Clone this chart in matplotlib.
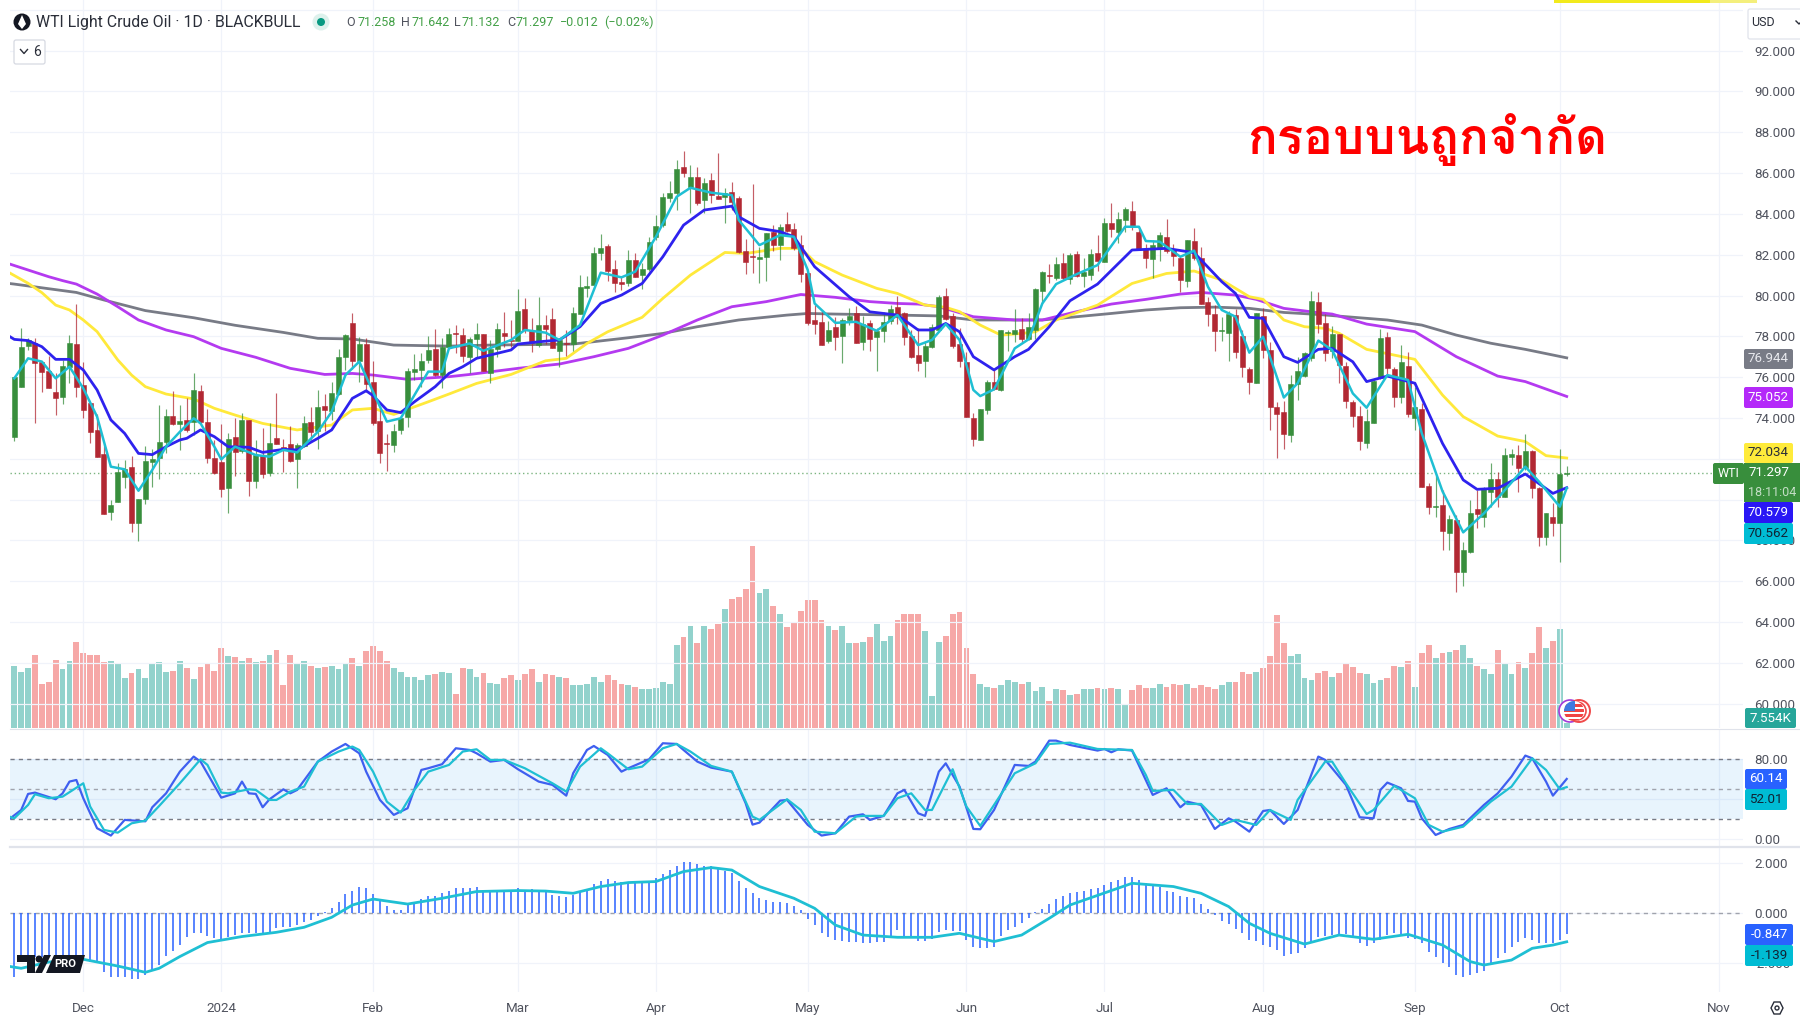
import numpy as np
import matplotlib
matplotlib.use("Agg")
from matplotlib import pyplot as plt
from matplotlib import font_manager
from matplotlib.patches import FancyBboxPatch, Circle, Polygon, Rectangle

# candles, one row = 10 days
highs = [76.02,78.41,77.90,77.93,76.72,77.03,76.18,76.84,78.05,79.57,
 76.72,74.71,74.19,72.70,69.97,71.77,71.94,72.13,70.01,72.64,
 72.48,74.62,74.45,75.33,74.62,74.98,76.18,75.63,74.42,72.92,
 73.70,73.28,73.98,74.22,73.90,72.92,73.50,73.73,75.20,72.97,
 73.62,72.75,74.11,74.55,75.37,75.15,75.76,77.39,78.10,79.16,
 77.98,77.90,76.79,74.42,73.21,73.70,73.99,76.43,77.13,77.16,
 78.03,78.34,77.90,78.39,78.55,78.42,77.98,78.67,78.11,77.82,
 78.67,79.20,78.80,80.30,79.86,78.88,79.94,79.04,79.37,77.90,
 78.31,79.45,81.00,80.95,82.39,83.00,82.52,81.74,80.92,82.23,
 82.06,81.57,82.85,83.93,85.01,85.63,86.64,87.08,86.39,86.28,
 85.74,85.99,86.97,85.25,85.54,84.87,82.77,85.45,82.36,83.08,
 83.45,83.49,84.11,83.57,82.96,81.08,79.53,79.29,78.75,78.96,
 78.91,79.37,79.50,79.01,78.80,78.39,79.20,79.53,79.99,79.21,
 78.31,78.39,77.78,78.60,80.02,80.35,79.12,78.42,77.24,74.22,
 74.42,75.86,76.35,78.31,78.31,79.32,78.88,79.12,80.35,81.22,
 81.54,81.87,82.10,82.10,82.18,81.85,82.28,82.96,83.78,84.52,
 84.11,84.35,84.65,83.37,82.52,82.72,83.13,83.73,82.51,81.90,
 82.70,83.32,82.36,79.94,79.53,78.93,79.24,79.32,78.31,76.51,
 79.16,79.37,77.74,74.76,74.84,76.10,77.00,77.24,80.24,80.17,
 79.09,78.52,78.11,76.75,74.88,74.58,74.42,75.86,78.36,78.23,
 76.51,77.57,77.25,75.50,74.71,70.83,71.20,70.47,69.24,69.24,
 67.93,69.98,70.47,70.63,71.77,71.36,72.54,72.46,72.67,73.21,
 72.43,70.63,69.32,69.81,72.48,71.642]
body_tops = [75.99,77.49,77.82,77.69,76.72,76.30,75.25,76.53,77.69,77.62,
 75.63,74.71,73.39,72.23,69.75,71.33,71.51,71.58,70.01,71.87,
 71.98,72.83,74.11,74.11,73.86,73.88,75.38,75.32,73.80,72.05,
 71.82,72.95,73.08,73.90,73.90,72.18,72.16,72.79,73.03,72.59,
 72.72,72.65,73.77,73.80,74.53,74.60,75.20,76.97,78.06,78.65,
 77.62,77.62,75.74,73.86,72.79,73.37,73.99,76.28,76.41,76.77,
 77.33,77.39,77.48,78.10,78.18,78.04,77.87,78.11,78.11,77.37,
 78.34,78.18,77.82,79.25,79.32,78.27,78.54,78.54,78.83,77.82,
 77.69,79.14,80.41,80.46,82.10,82.34,82.41,81.31,80.64,81.74,
 81.74,81.31,82.64,83.42,84.83,85.01,86.21,86.28,85.79,85.79,
 85.50,85.66,84.87,85.01,85.07,84.76,82.20,81.93,81.87,83.08,
 83.11,83.37,83.50,83.24,82.46,81.08,78.78,78.71,78.29,78.47,
 78.78,79.01,79.12,78.58,78.65,78.24,78.71,79.32,79.42,79.16,
 78.01,77.08,77.52,78.47,79.92,79.97,79.01,77.64,76.72,74.01,
 74.42,75.76,75.76,78.29,78.23,78.29,78.36,78.47,80.30,81.15,
 81.02,81.56,81.61,82.00,82.03,81.13,82.03,82.10,83.57,83.55,
 83.73,84.22,84.16,83.13,82.26,82.47,82.95,82.88,82.28,81.85,
 82.70,82.65,81.85,79.68,79.07,78.29,79.07,79.03,78.00,76.41,
 79.12,79.01,77.33,74.53,74.29,75.68,76.30,77.20,79.74,79.68,
 78.63,78.11,78.11,76.54,74.76,74.11,73.86,75.81,77.93,77.98,
 76.41,76.72,76.54,74.52,74.42,70.66,69.70,69.75,69.03,69.00,
 67.52,69.32,69.52,70.51,71.02,71.02,72.18,72.25,72.20,72.36,
 72.36,70.55,69.32,69.14,71.27,71.297]
body_bottoms = [73.05,75.53,77.52,76.67,76.27,75.47,74.99,75.04,76.51,75.53,
 74.39,73.29,72.07,69.29,69.40,69.89,71.10,68.86,68.86,70.01,
 71.84,72.02,72.83,73.70,73.72,73.41,73.78,73.78,72.02,71.31,
 70.51,70.56,72.33,72.39,70.92,70.92,71.25,71.28,72.74,72.46,
 71.89,71.97,72.62,73.31,73.36,74.37,74.35,75.17,76.98,76.79,
 76.79,75.64,73.77,72.26,72.74,72.67,73.41,74.03,76.25,76.35,
 76.84,76.10,76.10,77.49,78.13,77.03,76.97,77.87,76.28,76.21,
 77.36,78.01,77.75,77.75,78.31,77.65,77.57,78.34,77.41,77.29,
 77.64,77.62,79.11,80.38,80.50,82.06,81.21,80.63,80.54,80.59,
 80.92,80.99,81.31,82.85,83.45,84.79,85.04,85.99,85.33,84.55,
 84.66,84.92,84.74,84.84,84.60,82.13,81.66,81.88,81.77,81.90,
 82.47,82.47,83.18,82.31,81.03,78.67,78.62,77.59,77.77,77.95,
 78.01,78.80,77.65,77.72,77.88,77.95,78.26,78.75,78.96,77.95,
 76.98,76.67,76.80,77.49,78.31,78.85,77.52,76.79,74.06,72.98,
 72.91,74.39,75.40,75.35,78.18,78.11,77.87,77.87,78.31,80.24,
 80.97,80.84,80.84,80.79,80.95,80.95,81.02,81.67,81.64,83.27,
 83.09,83.70,83.41,82.26,81.82,81.77,82.31,82.18,81.93,80.74,
 80.73,81.82,79.60,79.09,78.26,78.24,78.18,77.23,76.51,75.76,
 75.73,77.33,74.55,74.19,73.21,73.16,75.64,76.07,76.92,78.62,
 77.16,77.28,76.59,74.81,74.09,72.88,72.79,73.77,75.94,76.43,
 75.04,75.01,74.19,74.01,70.60,69.65,69.62,68.44,68.37,66.43,
 66.46,67.41,69.30,69.16,70.38,70.14,70.14,72.10,71.53,71.55,
 70.58,68.16,68.16,68.86,68.86,71.258]
lows = [72.85,75.53,77.33,73.77,75.29,75.47,74.14,74.66,75.69,75.04,
 74.01,72.75,72.07,69.29,68.99,69.89,70.55,68.42,67.97,69.78,
 70.60,70.99,72.26,73.65,72.43,73.32,73.16,73.70,71.77,71.25,
 70.14,69.35,71.15,72.26,70.19,70.55,71.05,71.15,72.74,71.33,
 71.82,70.56,72.59,72.92,72.48,73.36,73.90,75.12,76.35,76.38,
 75.78,75.29,73.64,71.77,71.41,72.34,73.21,73.57,75.86,75.53,
 76.67,76.05,75.45,77.41,77.16,76.72,76.18,77.00,76.28,75.69,
 77.00,77.46,77.49,77.75,78.14,77.24,77.46,77.62,77.41,76.51,
 77.03,77.29,79.09,79.94,80.50,81.74,80.72,80.19,80.27,80.46,
 80.89,80.32,81.21,82.72,83.34,84.56,84.19,85.82,84.06,84.43,
 84.03,84.52,84.71,83.53,84.19,82.06,81.03,81.08,80.59,80.72,
 82.18,81.74,83.13,82.23,80.68,78.55,78.11,77.59,77.65,77.33,
 76.67,78.55,77.65,77.33,77.29,76.31,77.70,78.60,78.60,77.57,
 76.95,76.31,76.02,77.44,78.27,78.80,77.44,76.51,74.06,72.62,
 72.91,74.19,75.37,75.33,77.29,77.74,77.66,77.82,77.85,79.61,
 80.59,80.76,80.76,80.55,80.89,80.43,80.76,81.22,81.62,82.88,
 82.59,83.13,83.21,82.23,81.33,80.84,81.69,82.07,81.44,80.19,
 80.43,81.74,79.58,78.50,77.28,77.75,76.80,76.92,76.02,75.17,
 75.69,76.92,73.40,72.02,72.49,72.83,74.88,76.02,76.80,78.18,
 76.79,76.92,75.69,74.48,73.57,72.43,72.51,73.73,75.89,76.15,
 74.55,74.75,74.03,73.41,70.60,69.29,69.16,67.52,67.52,65.48,
 65.78,67.39,68.62,68.67,69.65,69.65,70.14,71.69,70.38,71.45,
 70.09,67.72,67.77,68.21,66.92,71.132]
# g = closed up, r = closed down
bar_dir = ("gggrrrrggr" "rrrrgggrgg" "gggrgrgrrr" "rgrgrgrgrr" "rggrgrgggr"
           "grrrrggggg" "grggrrggrg" "grrgrrgrrg" "rgggggrrrg" "rggggggrgr"
           "grrgrrrrgg" "rgrrrrrrgr" "ggrgrgggrr" "rrgggrrrrr" "ggrgggrggg"
           "rgrgrggrgr" "ggrrrggrrr" "grrrrggrrr" "grrrrggggr" "rgrrrrgggr"
           "rgrgrrgrgr" "ggrggrggrg" "rrgrgg")

# volume in thousands
volume = [93.5,84.5,90,110,66,69,102.5,88,101,129,
 112,110,110,99,101,97.5,75,82.5,88,75,
 97.5,99,84.5,86,101,90,73.5,92,95.5,86,
 119.5,108.5,106.5,101,104.5,99,101,110,117.5,64,
 110,95.5,101,93.5,90,92,93.5,88,97.5,104.5,
 93.5,116,123,116,101,90,84.5,77,77,71.5,
 79,80.5,84.5,82.5,51,90,88,77,82.5,67.5,
 66,75,79,71.5,80.5,88,69.5,80.5,79,77,
 75,64,64,66,77,69.5,79,71.5,66,64,
 62,58.5,58.5,60.5,69.5,66,125,136.5,153,127,
 153,149,156.5,179,193.5,197,208.5,273.5,202.5,208.5,
 182.5,171.5,151,158.5,175,192,192,162.5,153,147.5,
 153,127,127,129,136.5,156.5,131,138,162.5,
 171.5,171.5,171.5,145.5,47.5,129,138.5,171.5,173.5,119.5,
 80.5,66,62,60.5,64,71.5,69.5,66,69.5,55,
 62,40,58.5,56.5,49,51,58.5,58.5,60.5,58.5,
 60.5,58.5,34.5,56.5,64,60.5,60.5,66,62,66,
 64,66,60.5,64,62,58.5,64,69.5,69.5,84.5,
 80.5,84.5,90,108.5,169.5,127,108.5,110.5,75,71.5,
 82.5,86,77,82.5,95.5,92,82.5,80.5,67.5,71.5,
 75,93.5,92,101,62,112,125,104.5,112,114,
 117.5,125,104.5,93.5,88,80.5,117.5,95.5,80.5,99,
 90,112,151,119.5,130.5,149,7.554]

gray_days = [0,1,10,14,20,27,33,40,45,50,56,64,70,82,90,95,100,106,113,116,120,129,135,140,145,150,160,165,170,175,180,185,190,200,205,210,215,220,226]
gray_vals = [80.6,80.56,80.15,79.78,79.26,78.91,78.54,78.19,77.90,77.87,77.57,77.52,77.57,77.62,77.93,78.14,78.47,78.80,79.04,79.12,79.09,79.04,79.0,78.8,78.8,78.8,79.12,79.29,79.4,79.43,79.37,79.17,79.07,78.8,78.55,78.06,77.66,77.36,76.944]
purple_days = [0,3,6,8,10,13,16,19,23,27,31,36,41,46,50,53,58,64,67,74,80,85,90,95,100,105,110,115,120,125,129,132,135,140,146,150,155,160,165,170,173,178,181,185,190,192,197,204,210,216,220,226]
purple_vals = [81.58,81.25,80.92,80.73,80.56,80.07,79.45,78.80,78.31,77.98,77.41,76.97,76.43,76.13,76.18,76.1,75.89,76.02,76.13,76.43,76.64,77.0,77.41,78.06,78.8,79.45,79.7,80.05,79.91,79.7,79.61,79.58,79.45,78.96,78.8,78.8,79.21,79.58,79.81,80.07,80.15,80.02,79.81,79.37,79.16,79.09,78.6,78.23,77.0,76.05,75.78,75.052]
yellow_days = [0,3,5,7,9,11,13,16,18,20,23,27,30,33,37,42,47,50,53,56,58,61,64,68,73,78,81,84,87,92,95,99,104,107,112,115,117,121,126,129,133,136,138,141,144,147,149,152,158,163,168,172,176,180,182,185,188,191,193,197,204,208,211,216,220,223,226]
yellow_vals = [81.17,80.6,80.14,79.53,79.29,78.8,78.23,76.84,76.1,75.53,75.17,74.93,74.47,74.14,73.73,73.41,73.65,74.39,74.47,74.17,74.42,74.79,75.17,75.69,76.13,76.8,76.92,77.65,78.22,78.93,79.86,81.0,82.11,82.06,82.31,82.31,81.66,81.0,80.35,80.1,79.53,79.42,79.21,78.55,78.06,78.14,78.22,78.8,79.53,80.59,81.08,81.2,80.76,79.94,79.81,78.8,78.47,78.39,78.15,77.36,76.87,75.12,74.06,73.11,72.84,72.15,72.034]
blue_days = [0,1,3,5,7,9,11,13,15,17,19,21,23,25,26,28,30,32,35,37,40,42,45,47,50,52,53,55,57,59,62,64,66,68,73,74,77,80,83,86,89,92,95,98,101,105,106,109,112,114,117,122,125,129,132,134,136,138,140,143,146,148,151,154,158,163,168,172,176,178,180,182,185,187,190,192,195,197,200,204,208,211,213,216,220,224,226]
blue_vals = [78.06,77.85,77.79,77.49,76.87,76.87,76.35,75.37,73.9,73.24,72.26,72.2,72.59,72.92,73.0,73.41,73.08,72.59,72.56,72.31,72.46,72.43,73.0,73.41,74.96,75.33,75.09,74.39,74.26,74.79,75.53,76.18,76.51,76.92,77.33,77.62,77.73,77.82,78.47,79.61,80.02,80.59,81.9,83.45,84.19,84.38,83.86,83.29,83.13,82.88,81.41,79.94,79.2,79.04,78.31,78.31,78.63,78.22,77.0,76.35,77.0,77.36,78.47,79.74,80.56,82.23,82.31,82.1,80.68,80.1,78.93,78.88,77.0,76.72,77.36,77.41,76.75,75.78,76.05,75.7,72.75,70.96,70.5,70.55,71.25,70.3,70.579]
cyan_days = [1,3,5,7,9,11,13,15,17,19,21,23,25,27,28,30,31,33,36,38,40,42,45,47,49,51,53,55,57,59,61,63,64,67,69,73,75,78,80,83,85,86,89,91,94,97,99,102,105,106,109,112,114,116,117,120,123,126,129,132,134,136,138,140,141,143,146,148,150,152,155,158,162,164,165,167,170,172,174,176,178,180,182,185,187,190,192,195,197,200,203,205,208,211,214,216,220,222,225,226]
cyan_vals = [75.94,76.92,76.76,75.94,76.51,75.45,74.06,71.61,71.48,70.43,71.45,72.59,73.32,73.98,73.73,72.59,71.97,72.59,72.18,72.1,72.43,72.31,73.32,74.3,76.1,76.76,75.28,73.82,73.98,75.12,76.27,76.27,77.41,77.65,77.29,77.82,78.31,78.18,77.82,78.55,80.27,81.12,80.89,81.17,82.88,84.84,85.28,85.04,84.92,83.7,82.47,82.96,82.88,81.25,79.61,78.66,78.71,78.27,79.04,77.57,77.82,78.6,77.82,75.37,75.07,75.4,77.41,77.85,79.61,80.56,81.05,81.49,83.37,83.37,82.67,82.64,81.9,82.2,80.43,79.29,78.96,77.2,77.98,75.0,75.7,77.79,77.33,75.2,74.5,76.1,75.86,73.24,70.4,68.39,69.32,70.06,71.61,70.87,69.65,70.562]

# stochastic, index 0 = first candle
k_days = [-1,1,2,3,6,7,8,9,10,12,14,16,19,20,22,24,26,27,30,32,33,34,35,36,37,39,40,41,44,46,48,50,51,53,55,57,59,60,62,64,66,67,69,71,73,76,78,80,81,83,84,86,88,89,92,94,96,97,99,101,104,106,107,108,111,112,115,117,119,121,123,124,126,128,129,131,132,134,135,137,139,140,142,145,147,148,150,151,153,157,158,159,160,162,165,167,169,170,172,174,176,177,179,181,182,184,186,189,190,193,195,197,198,199,201,202,203,204,206,208,210,213,215,217,219,220,222,223,225]
k_vals = [18.6,29.2,45.2,46.5,39.9,45.8,57.5,59.1,40.9,11.0,3.7,19.3,17.9,31.9,45.8,67.4,82.4,77.4,41.5,45.8,57.5,45.8,45.2,31.9,39.9,49.8,45.8,49.2,77.4,87.4,95,85.7,67.4,39.2,24.3,30.9,69.1,70.8,74.8,90.7,89,85.7,77.4,79.1,69.8,57.5,54.2,43.5,65.8,89,93,84.1,67.4,70.8,79.7,95.7,95,89,77.4,71.4,67.4,35.9,14.6,16.6,38.5,39.2,14.3,3.7,6,22.6,24.9,19.3,23.3,45.8,49.2,25.9,23.3,67.4,75.7,52.5,10.3,10,29.2,74.1,73.1,77.4,98.3,98.3,94,88.4,90,86.7,89.7,88.4,44.2,50.8,31.9,37.5,34.2,10.3,20.9,17.6,7.6,28.2,29.2,15.3,29.2,82.4,79.1,54.2,21.9,20.9,49.2,56.5,50.8,38.2,37.5,20.9,4.3,10.3,14.3,34.2,45.8,62.5,83.4,80.7,57.5,43.5,60.14]
d_days = [-1,0,2,3,5,7,10,11,13,15,17,19,21,24,27,28,30,31,34,35,37,38,40,42,44,47,49,50,52,54,56,58,60,63,65,67,69,71,74,78,80,82,85,86,89,91,94,96,98,101,104,107,108,112,114,116,119,122,123,126,128,130,132,133,136,138,140,142,145,148,150,153,157,162,164,165,168,170,172,175,177,180,182,185,186,190,191,193,196,197,200,203,205,207,210,214,217,220,222,224,225]
d_vals = [23.3,20.9,34.2,44.9,40.9,42.5,55.8,32.6,9.3,6.6,15.9,18.6,33.2,55.8,79.7,74.1,46.5,45.8,49.8,49.2,39.2,39.2,47.5,52.5,77.4,87.4,92.4,89,67.4,37.5,26.6,49.2,67.4,74.1,87.4,89.7,79.1,79.1,70.8,55.8,47.5,72.4,90.7,85.7,69.8,72.4,90.7,95,87.4,73.1,67.4,22.6,19.3,39.9,29.2,7.6,6,22.6,23.3,23.3,40.9,45.8,29.2,29.2,69.8,32.6,13.3,34.2,65.8,75.7,95,96.3,90,89,64.1,48.2,49.2,35.2,35.2,14.3,19.3,14.3,29.2,19.3,39.2,77.4,77.4,55.8,25.2,29.2,53.2,40.9,14.3,7.6,12.6,37.5,52.5,80.7,69.1,49.8,52.01]

# macd histogram for each day and the signal line at some days
macd_hist = [-2.53,-1.75,-1.75,-1.75,-1.75,-1.75,-1.75,-1.75,-1.75,-1.75,
 -1.73,-1.93,-2.0,-2.36,-2.53,-2.53,-2.53,-2.64,-2.64,-2.47,
 -2.27,-2.07,-1.71,-1.49,-1.27,-.96,-.77,-.8,-.91,-1.0,
 -1.04,-.96,-.87,-.8,-.8,-.8,-.8,-.73,-.6,-.53,
 -.53,-.47,-.33,-.27,-.09,.04,.2,.45,.77,.91,
 1.04,1.0,.77,.53,.31,.13,.13,.33,.4,.56,
 .71,.71,.8,.91,1.0,1.0,1.03,1.04,.93,.91,
 .89,.93,.93,1.0,.93,.96,.93,.91,.73,.71,
 .67,.73,.89,.96,1.16,1.31,1.36,1.29,1.24,1.24,
 1.27,1.23,1.27,1.4,1.57,1.73,1.89,2.04,2.04,1.97,
 1.91,1.89,1.8,1.71,1.6,1.29,1.0,.8,.6,.53,
 .45,.45,.4,.31,.13,-.23,-.47,-.77,-.93,-1.07,
 -1.12,-1.13,-1.16,-1.17,-1.2,-1.16,-1.13,-.96,-.67,
 -.96,-.96,-1.09,-1.09,-1.04,-.76,-.67,-.71,-.71,-1.07,
 -1.33,-1.4,-1.4,-1.36,-.91,-.67,-.53,-.37,-.2,.05,
 .17,.37,.57,.71,.8,.87,.91,.96,1.03,1.13,
 1.24,1.33,1.44,1.44,1.33,1.2,1.11,1.04,.91,.84,
 .71,.64,.6,.37,.16,-.07,-.29,-.43,-.63,-.8,
 -1.07,-1.09,-1.27,-1.33,-1.47,-1.71,-1.64,-1.57,-1.4,-1.2,
 -.93,-.89,-.87,-.83,-.83,-1.0,-1.2,-1.31,-1.2,-1.07,
 -.87,-.8,-.84,-1.0,-1.04,-1.2,-1.53,-1.76,-2.0,-2.13,
 -2.47,-2.53,-2.47,-2.4,-2.29,-2.0,-1.8,-1.57,-1.33,-1.16,
 -1.0,-1.07,-1.2,-1.2,-1.2,-1.07,-.847]
signal_days = [-1,1,5,10,15,19,21,24,28,33,38,42,46,49,52,57,62,67,73,77,81,85,89,93,97,101,104,108,113,116,119,123,128,133,137,142,146,150,153,162,168,172,176,179,182,187,192,197,202,207,211,213,217,220,223,225]
signal_vals = [-2.11,-2.2,-1.95,-1.84,-2.11,-2.36,-2.2,-1.73,-1.17,-.93,-.76,-.56,-.16,.33,.57,.37,.6,.87,.91,.89,.8,1.07,1.23,1.27,1.67,1.83,1.73,1.07,.6,.2,-.47,-.87,-.96,-.96,-.8,-1.13,-.87,-.2,.33,1.2,1.07,.8,.27,-.4,-.8,-1.23,-.87,-1.04,-.84,-1.27,-1.93,-2.07,-1.87,-1.4,-1.27,-1.139]

price_ticks = np.arange(60, 94, 2)
hidden_ticks = [70, 72]  # these sit fully behind the value tags
stoch_ticks = [0, 80]
macd_ticks = [-2, 0, 2]
month_days = [10, 30, 52, 73, 93, 115, 138, 158, 181, 203, 224, 247]
month_names = ["Dec", "2024", "Feb", "Mar", "Apr", "May", "Jun", "Jul", "Aug", "Sep", "Oct", "Nov"]
last_close = 71.297

GREEN = "#388E3C"
RED = "#B22833"
BLUE = "#2E22EE"
CYAN = "#1FBFD3"
YELLOW = "#FFE93B"
PURPLE = "#B43AF0"
GRAY = "#787B86"
GRID = "#F0F3FA"
W, H = 1800, 1016
SMALL = 9.6


def thai_font():
    for f in font_manager.fontManager.ttflist:
        try:
            if 0x0E01 in font_manager.get_font(f.fname).get_charmap():
                return f.name
        except Exception:
            pass
    return "DejaVu Sans"


def pane(top, bottom):
    a = fig.add_axes([10 / W, 1 - bottom / H, 1733 / W, (bottom - top) / H])
    a.set_xlim(-0.62, 250.55)
    a.patch.set_alpha(0)
    for s in a.spines.values():
        s.set_visible(False)
    a.yaxis.tick_right()
    a.tick_params(length=0, labelsize=SMALL, labelcolor="#50535E", pad=8)
    a.set_xticks(month_days)
    a.tick_params(axis="x", labelbottom=False)
    a.grid(True, color=GRID, lw=0.9)
    a.set_axisbelow(True)
    return a


plt.rcParams["font.family"] = ["Roboto", "DejaVu Sans"]
fig = plt.figure(figsize=(18, 10.16), dpi=100, facecolor="white")

x = np.arange(len(highs))
up = np.array([d == "g" for d in bar_dir])
tops = np.array(body_tops)
bottoms = np.array(body_bottoms)
colors = [GREEN if u else RED for u in up]
vol_colors = ["#26A69A" if u else "#EF5350" for u in up]

# volume sits on its own scale under the candles
ax_vol = pane(0, 728)
ax_vol.set_ylim(0, 1092)
ax_vol.grid(False)
ax_vol.set_yticks([])
ax_vol.bar(x, volume, width=0.84, color=vol_colors, alpha=0.5, lw=0)

ax = pane(0, 728)
ax.set_ylim(58.80, 94.485)
ax.set_yticks(list(price_ticks) + [94])
ax.set_yticklabels(["" if p in hidden_ticks else "%.3f" % p for p in price_ticks] + [""])
ax.axhline(last_close, color="#7CB580", lw=1, ls=(0, (1, 2)), zorder=1)
ax.plot(np.array(gray_days) - 1, gray_vals, color=GRAY, lw=2.0, zorder=2)
ax.plot(np.array(purple_days) - 1, purple_vals, color=PURPLE, lw=2.0, zorder=2)
ax.plot(np.array(yellow_days) - 1, yellow_vals, color=YELLOW, lw=2.0, zorder=2)
wicks = ax.vlines(x, lows, highs, colors=colors, lw=0.85, alpha=0.75, zorder=3)
wicks.set_snap(True)
ax.bar(x, tops - bottoms, bottom=bottoms, width=0.72, color=colors, edgecolor=colors, lw=0.4, zorder=4)
ax.plot(np.array(blue_days) - 1, blue_vals, color=BLUE, lw=2.0, zorder=5)
ax.plot(np.array(cyan_days) - 1, cyan_vals, color=CYAN, lw=1.8, zorder=5)

ax_st = pane(730, 846)
ax_st.set_ylim(-6.7, 108.9)
ax_st.set_yticks(stoch_ticks + [40])
ax_st.set_yticklabels(["0.00", "80.00", ""])
ax_st.axhspan(20, 80, color="#2196F3", alpha=0.1, lw=0)
for lev in [80, 50, 20]:
    ax_st.axhline(lev, color="#787B86" if lev != 50 else "#A0A3AD", lw=1, ls=(0, (3, 3)))
ax_st.plot(k_days, k_vals, color="#3F5FF0", lw=1.6)
ax_st.plot(d_days, d_vals, color=CYAN, lw=1.6)

ax_m = pane(848, 992)
ax_m.set_ylim(-3.148, 2.612)
ax_m.set_yticks(macd_ticks)
ax_m.set_yticklabels(["-2.000", "0.000", "2.000"])
ax_m.axhline(0, color="#A0A3AD", lw=1, ls=(0, (3, 3)))
hist = ax_m.vlines(x, 0, macd_hist, colors="#2962FF", lw=1.1)
hist.set_snap(True)
ax_m.plot(signal_days, signal_vals, color=CYAN, lw=2.0)
ax_m.tick_params(axis="x", labelbottom=True, pad=7)
ax_m.set_xticklabels(month_names)

# everything that is not data goes in a pixel sized layer on top
ui = fig.add_axes([0, 0, 1, 1], zorder=10)
ui.set_xlim(0, W)
ui.set_ylim(H, 0)
ui.axis("off")


def tag(x0, y0, x1, y1, color, text=None, tc="white", fs=SMALL, tx=None):
    ui.add_patch(FancyBboxPatch((x0 + 2, y0 + 2), x1 - x0 - 4, y1 - y0 - 4, boxstyle="round,pad=2",
                                fc=color, ec=color, lw=0))
    if text:
        ui.text((x0 + x1) / 2 if tx is None else tx, (y0 + y1) / 2, text, color=tc, fontsize=fs,
                ha="center", va="center")


# separators and the strip at the top
ui.plot([10, 1800], [729, 729], color="#E0E3EB", lw=0.8)
ui.plot([10, 1800], [847, 847], color="#E0E3EB", lw=1.6)
ui.add_patch(Rectangle((1554, 0), 156, 3, fc="#F2EA1C", ec="none"))
ui.add_patch(Rectangle((1710, 0), 47, 3, fc="#F4EF7C", ec="none"))

# legend row
ui.add_patch(Circle((22, 22), 8.5, fc="#131722", ec="none"))
ui.add_patch(Polygon([(22, 15), (26, 24), (22, 29), (18, 24)], fc="white", ec="none"))
ui.text(36, 22, "WTI Light Crude Oil · 1D · BLACKBULL", fontsize=11.4, color="#2A2E39", va="center")
ui.add_patch(Circle((321, 22), 8.5, fc="#DDF1EC", ec="none"))
ui.add_patch(Circle((321, 22), 4, fc="#089981", ec="none"))
for lx, lt, vx, vt in [(346, "O", 357, "71.258"), (401, "H", 411, "71.642"),
                       (454, "L", 462, "71.132"), (507, "C", 516, "71.297")]:
    ui.text(lx, 22, lt, fontsize=9, color="#50535E", va="center")
    ui.text(vx, 22, vt, fontsize=9, color="#43A047", va="center")
ui.text(560, 22, "−0.012", fontsize=9, color="#43A047", va="center")
ui.text(604, 22, "(−0.02%)", fontsize=9, color="#43A047", va="center")
ui.add_patch(FancyBboxPatch((16, 42), 27, 20, boxstyle="round,pad=2", fc="white", ec="#D6D9E2", lw=0.9))
ui.plot([20.5, 24, 27.5], [49.5, 53.5, 49.5], color="#2A2E39", lw=1)
ui.text(37, 52, "6", fontsize=10, color="#2A2E39", ha="center", va="center")

ui.text(1427, 139, "กรอบบนถูกจำกัด", fontsize=35.5, color="#FF0000", fontweight="bold",
        family=[thai_font(), "DejaVu Sans"], ha="center", va="center")

# right scale tags
ui.add_patch(FancyBboxPatch((1750, 11), 60, 26, boxstyle="round,pad=2", fc="white", ec="#E0E3EB", lw=0.9))
ui.text(1763, 22.5, "USD", fontsize=9, color="#2A2E39", ha="center", va="center")
ui.plot([1796, 1799, 1800], [21, 24, 23], color="#2A2E39", lw=1)
tag(1744, 349, 1793, 369, GRAY, "76.944", tc="#E8E9EE")
tag(1744, 387, 1793, 408, "#B429F9", "75.052")
tag(1744, 443, 1793, 463, "#FFEB3B", "72.034", tc="#2A2E39")
tag(1713, 463, 1744, 484, GREEN, "WTI", fs=9)
ui.add_patch(Rectangle((1744, 463), 56, 39, fc=GREEN, ec="none"))
ui.text(1769, 473, "71.297", fontsize=SMALL, color="white", ha="center", va="center")
ui.text(1772, 492, "18:11:04", fontsize=9, color="#C4DEC6", ha="center", va="center")
tag(1744, 502, 1793, 523, "#2A17F5", "70.579")
tag(1744, 523, 1793, 544, "#00BCD4", "70.562", tc="#123")
tag(1745, 708, 1796, 728, "#26A69A", "7.554K")
tag(1745, 769, 1787, 789, "#2962FF", "60.14")
tag(1745, 789, 1787, 810, "#00BCD4", "52.01", tc="#123")
tag(1745, 924, 1793, 945, "#2962FF", "-0.847")
tag(1745, 945, 1793, 966, "#00BCD4", "-1.139", tc="#123")

# event flags on the volume pane
ui.add_patch(Circle((1570, 711), 11, fc="white", ec="#A33AD8", lw=1.2))
ui.add_patch(Circle((1579, 711), 11, fc="white", ec="#F04B4B", lw=1.4))
ui.add_patch(Circle((1577, 711), 9, fc="white", ec="#F04B4B", lw=1.2))
flag = Circle((1574, 711), 10, fc="white", ec="none")
ui.add_patch(flag)
for sy in [704, 709, 714, 719]:
    s = Rectangle((1564, sy), 20, 2.5, fc="#EF4444", ec="none")
    ui.add_patch(s)
    s.set_clip_path(flag)
canton = Rectangle((1564, 701), 11, 10, fc="#3D7AE0", ec="none")
ui.add_patch(canton)
canton.set_clip_path(flag)

# pro logo
ui.add_patch(Polygon([(17, 955), (35, 955), (35, 973), (27, 973), (27, 962), (17, 962)], fc="#131722", ec="none"))
ui.add_patch(Circle((39, 959), 3.5, fc="#131722", ec="none"))
ui.add_patch(Polygon([(44, 955), (51, 955), (42, 973), (35, 973)], fc="#131722", ec="none"))
ui.add_patch(Polygon([(54, 955), (85, 955), (80, 973), (46, 973)], fc="#131722", ec="none"))
ui.text(65, 964, "PRO", fontsize=8, color="white", fontweight="bold", ha="center", va="center")

# settings button in the corner
ui.add_patch(Polygon([(1771, 1008), (1774, 1002), (1780, 1002), (1783, 1008), (1780, 1014), (1774, 1014)],
                     fc="none", ec="#2A2E39", lw=1))
ui.add_patch(Circle((1777, 1008), 2, fc="none", ec="#2A2E39", lw=1))

fig.savefig("out.png", dpi=100)
